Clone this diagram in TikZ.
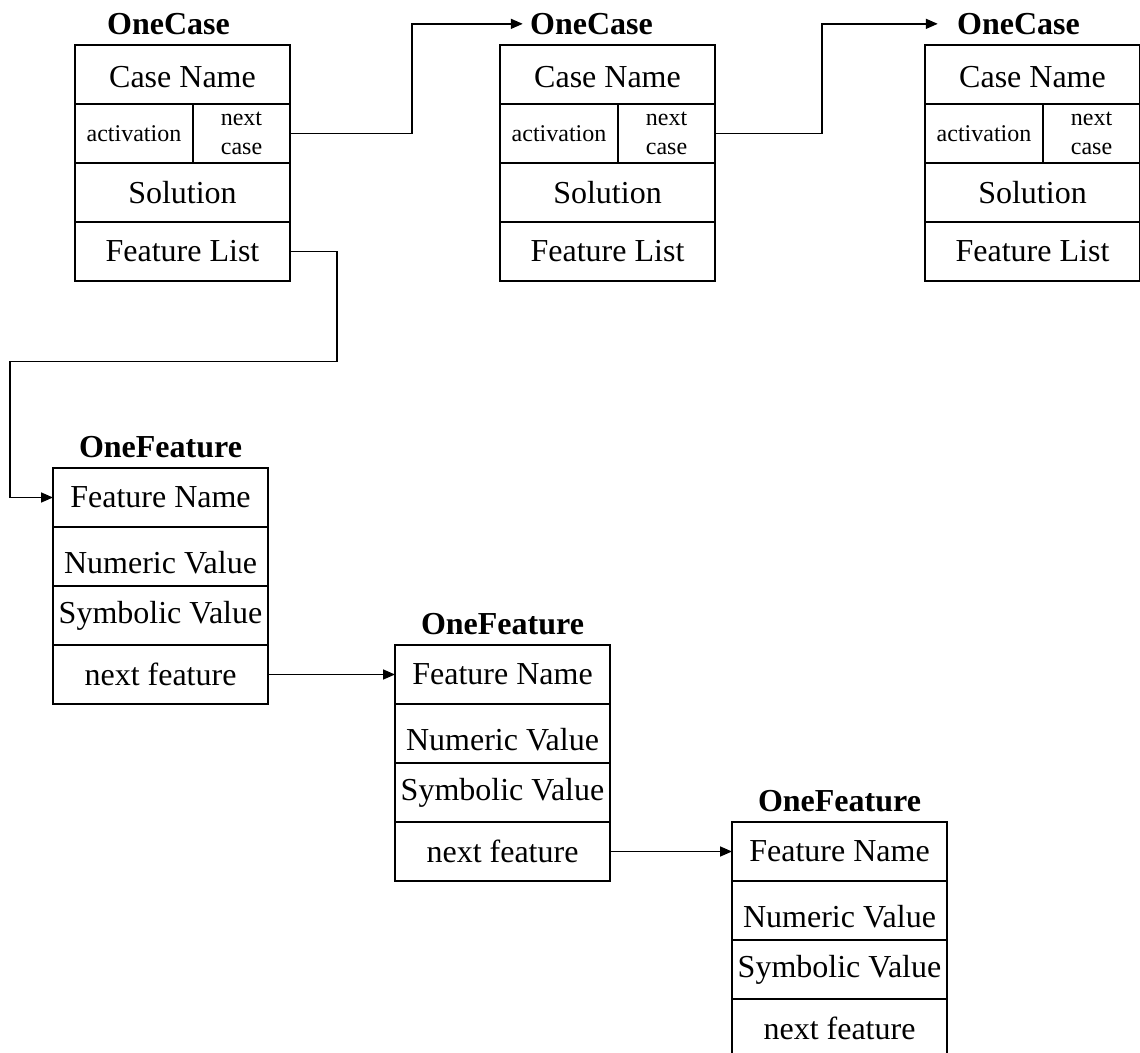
\documentclass[tikz,border=0pt]{standalone}
\usepackage{fontspec}
\setmainfont{Liberation Serif}
\usetikzlibrary{arrows.meta,positioning}

\tikzset{
  cell/.style={draw, line width=0.8pt, outer sep=0pt, inner sep=0pt,
    minimum width=107.5pt, minimum height=29.5pt, font=\fontsize{16}{19}\selectfont},
  splitcell/.style={cell, minimum width=#1, align=center, font=\fontsize{12}{14.5}\selectfont},
  lowtext/.style={text height=#1, text depth=0pt},
  boxtitle/.style={inner sep=0pt, font=\bfseries\fontsize{16}{19}\selectfont},
  link/.style={line width=0.8pt, -{Triangle[length=6pt,width=5pt]}},
}

\begin{document}
\begin{tikzpicture}
\useasboundingbox (0,0) rectangle (570pt,-526.5pt);
% Case 1
\node[cell, lowtext=13.5pt, anchor=north west] (c1name) at (37.5pt,-22.5pt) {Case Name};
\node[splitcell=59pt, below right=0pt and 0pt of c1name.south west] (c1act) {activation};
\node[splitcell=48.5pt, right=0pt of c1act] (c1next) {next\\case};
\node[cell, below right=0pt and 0pt of c1act.south west] (c1sol) {Solution};
\node[cell, below=0pt of c1sol] (c1list) {Feature List};
\node[boxtitle, above=5pt of c1name.north, xshift=-7pt] (c1title) {OneCase};
% Case 2
\node[cell, lowtext=13.5pt, anchor=north west] (c2name) at (250pt,-22.5pt) {Case Name};
\node[splitcell=59pt, below right=0pt and 0pt of c2name.south west] (c2act) {activation};
\node[splitcell=48.5pt, right=0pt of c2act] (c2next) {next\\case};
\node[cell, below right=0pt and 0pt of c2act.south west] (c2sol) {Solution};
\node[cell, below=0pt of c2sol] (c2list) {Feature List};
\node[boxtitle, above=5pt of c2name.north, xshift=-8pt] (c2title) {OneCase};
% Case 3
\node[cell, lowtext=13.5pt, anchor=north west] (c3name) at (462.5pt,-22.5pt) {Case Name};
\node[splitcell=59pt, below right=0pt and 0pt of c3name.south west] (c3act) {activation};
\node[splitcell=48.5pt, right=0pt of c3act] (c3next) {next\\case};
\node[cell, below right=0pt and 0pt of c3act.south west] (c3sol) {Solution};
\node[cell, below=0pt of c3sol] (c3list) {Feature List};
\node[boxtitle, above=5pt of c3name.north, xshift=-7pt] (c3title) {OneCase};
% Feature 1
\node[cell, anchor=north west] (f1name) at (26.5pt,-234pt) {Feature Name};
\node[cell, lowtext=17pt, below=0pt of f1name] (f1num) {Numeric Value};
\node[cell, below=0pt of f1num] (f1sym) {Symbolic Value};
\node[cell, below=0pt of f1sym] (f1next) {next feature};
\node[boxtitle, above=5pt of f1name.north] (f1title) {OneFeature};
% Feature 2
\node[cell, anchor=north west] (f2name) at (197.5pt,-322.5pt) {Feature Name};
\node[cell, lowtext=17pt, below=0pt of f2name] (f2num) {Numeric Value};
\node[cell, below=0pt of f2num] (f2sym) {Symbolic Value};
\node[cell, below=0pt of f2sym] (f2next) {next feature};
\node[boxtitle, above=5pt of f2name.north] (f2title) {OneFeature};
% Feature 3
\node[cell, anchor=north west] (f3name) at (366pt,-411pt) {Feature Name};
\node[cell, lowtext=17pt, below=0pt of f3name] (f3num) {Numeric Value};
\node[cell, below=0pt of f3num] (f3sym) {Symbolic Value};
\node[cell, below=0pt of f3sym] (f3next) {next feature};
\node[boxtitle, above=5pt of f3name.north] (f3title) {OneFeature};
% Links between cases
\draw[link] (c1next.east) -- ++(61pt,0) |- ([xshift=-3.5pt]c2title.west);
\draw[link] (c2next.east) -- ++(53.5pt,0) |- ([xshift=-9.5pt]c3title.west);
% Feature list of case 1
\draw[link] (c1list.east) -- ++(23.5pt,0) -- ++(0,-55pt) -| ([xshift=-21.5pt]f1name.west) -- (f1name.west);
% Links between features
\draw[link] (f1next.east) -- (f2name.west);
\draw[link] (f2next.east) -- (f3name.west);
\end{tikzpicture}
\end{document}
